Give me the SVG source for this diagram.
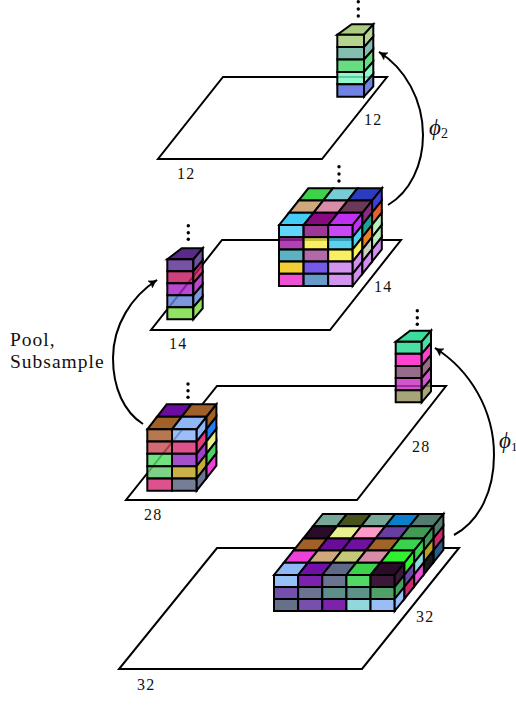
<svg xmlns="http://www.w3.org/2000/svg" width="516" height="726" viewBox="0 0 516 726">
<style>
text{font-family:"Liberation Serif",serif;fill:#111}
.n{font-size:16px;letter-spacing:1.2px}
.l{font-size:19.5px;letter-spacing:1px}
.p{font-size:23px;font-style:italic}
.s{font-size:14px}
.plane,.arrow{fill:none;stroke:#000;stroke-width:2}
.arrow{marker-end:url(#a)}
.c rect{width:1px;height:1px;stroke:#000;stroke-width:2;vector-effect:non-scaling-stroke}
.c polygon{stroke:#000;stroke-width:2}
.t rect{fill-opacity:.82}
</style>
<defs>
<marker id="a" markerUnits="userSpaceOnUse" markerWidth="12" markerHeight="12" refX="9" refY="5" orient="auto"><path d="M1,1 Q5,4 9,5 Q5,6 1,9 Q3,5 1,1Z" fill="#000" stroke="#000" stroke-width=".6"/></marker>
</defs>
<g id="plane32"><polygon class="plane" points="119,669 362,669 459,548 217,548"/><text class="n" x="137" y="690">32</text><text class="n" x="416" y="622">32</text></g>
<g id="plane28"><polygon class="plane" points="126,500 357,500 446,386 217,386"/><text class="n" x="144" y="520">28</text><text class="n" x="412" y="452">28</text></g>
<g id="plane14"><polygon class="plane" points="151,330 330,330 401,240 222,240"/><text class="n" x="169" y="349">14</text><text class="n" x="374" y="292">14</text></g>
<g id="plane12"><polygon class="plane" points="158,159 322,159 387,77 223,77"/><text class="n" x="177" y="179">12</text><text class="n" x="364" y="125">12</text></g>

<g id="block32" class="c">
<g transform="matrix(24.14 0 -9.74 12.2 322.7 514)">
<rect x="0" y="0" fill="#76a797"/><rect x="1" y="0" fill="#46531c"/><rect x="2" y="0" fill="#78a898"/><rect x="3" y="0" fill="#0a80cc"/><rect x="4" y="0" fill="#537b70"/>
<rect x="0" y="1" fill="#2a0c2a"/><rect x="1" y="1" fill="#e8f090"/><rect x="2" y="1" fill="#ff99c8"/><rect x="3" y="1" fill="#673ea0"/><rect x="4" y="1" fill="#439a55"/>
<rect x="0" y="2" fill="#a06028"/><rect x="1" y="2" fill="#6a0c9a"/><rect x="2" y="2" fill="#7010a0"/><rect x="3" y="2" fill="#a06428"/><rect x="4" y="2" fill="#3bd24d"/>
<rect x="0" y="3" fill="#ec40d8"/><rect x="1" y="3" fill="#cfa87e"/><rect x="2" y="3" fill="#c4c878"/><rect x="3" y="3" fill="#d88ca8"/><rect x="4" y="3" fill="#30f030"/>
<rect x="0" y="4" fill="#8fb6f5"/><rect x="1" y="4" fill="#7010a8"/><rect x="2" y="4" fill="#5c6a88"/><rect x="3" y="4" fill="#3cd24c"/><rect x="4" y="4" fill="#2a0c2a"/>
</g>
<g transform="matrix(24.14 0 0 12 274 575)">
<rect x="0" y="0" fill="#97bff8"/><rect x="1" y="0" fill="#7d22ad"/><rect x="2" y="0" fill="#6b7390"/><rect x="3" y="0" fill="#52d865"/><rect x="4" y="0" fill="#3a1838"/>
<rect x="0" y="1" fill="#7250ac"/><rect x="1" y="1" fill="#6b7390"/><rect x="2" y="1" fill="#5c9088"/><rect x="3" y="1" fill="#5e9288"/><rect x="4" y="1" fill="#50a068"/>
<rect x="0" y="2" fill="#667088"/><rect x="1" y="2" fill="#7850ac"/><rect x="2" y="2" fill="#7c22ad"/><rect x="3" y="2" fill="#90d8dc"/><rect x="4" y="2" fill="#9abdf8"/>
</g>
<g transform="matrix(9.74 -12.2 0 12 394.7 575)">
<rect x="0" y="0" fill="#3a1838"/><rect x="0" y="1" fill="#42a060"/><rect x="0" y="2" fill="#97bff8"/>
<rect x="1" y="0" fill="#30f030"/><rect x="1" y="1" fill="#6a48a8"/><rect x="1" y="2" fill="#cc2a70"/>
<rect x="2" y="0" fill="#3bd24d"/><rect x="2" y="1" fill="#90d8dc"/><rect x="2" y="2" fill="#ec50d8"/>
<rect x="3" y="0" fill="#3b9a55"/><rect x="3" y="1" fill="#b8a020"/><rect x="3" y="2" fill="#1a1a1a"/>
<rect x="4" y="0" fill="#537b70"/><rect x="4" y="1" fill="#cc2a70"/><rect x="4" y="2" fill="#2a5a88"/>
</g>
</g>

<g id="block28a" class="c">
<g transform="matrix(24.7 0 -9.7 12.5 166.7 404.3)">
<rect x="0" y="0" fill="#6a0ca0"/><rect x="1" y="0" fill="#a06028"/><rect x="0" y="1" fill="#a06028"/><rect x="1" y="1" fill="#8fb6f5"/>
</g>
<g class="t" transform="matrix(24.7 0 0 12.28 147.3 429.3)">
<rect x="0" y="0" fill="#a65c28"/><rect x="1" y="0" fill="#85b0f6"/>
<rect x="0" y="1" fill="#c84a56"/><rect x="1" y="1" fill="#d62c74"/>
<rect x="0" y="2" fill="#50dc64"/><rect x="1" y="2" fill="#9028c0"/>
<rect x="0" y="3" fill="#60c86c"/><rect x="1" y="3" fill="#bca020"/>
<rect x="0" y="4" fill="#d62c74"/><rect x="1" y="4" fill="#586280"/>
</g>
<g transform="matrix(9.85 -12.5 0 12.28 196.7 429.3)">
<rect x="0" y="0" fill="#8fb6f5"/><rect x="0" y="1" fill="#dd3f80"/><rect x="0" y="2" fill="#a040c8"/><rect x="0" y="3" fill="#c4ac38"/><rect x="0" y="4" fill="#6b7390"/>
<rect x="1" y="0" fill="#a06028"/><rect x="1" y="1" fill="#2080f0"/><rect x="1" y="2" fill="#e8f090"/><rect x="1" y="3" fill="#50d060"/><rect x="1" y="4" fill="#f040d8"/>
</g>
</g>
<g id="dots28a"><circle cx="188" cy="384" r="1.7"/><circle cx="188" cy="390.7" r="1.7"/><circle cx="188" cy="397.3" r="1.7"/></g>

<g id="block14a" class="c">
<g transform="matrix(24.57 0 -9.7 12.23 308.3 188.3)">
<rect x="0" y="0" fill="#3cd24c"/><rect x="1" y="0" fill="#78ccd4"/><rect x="2" y="0" fill="#2c3cc0"/>
<rect x="0" y="1" fill="#cfa87e"/><rect x="1" y="1" fill="#d88ca8"/><rect x="2" y="1" fill="#6a3858"/>
<rect x="0" y="2" fill="#44ccf8"/><rect x="1" y="2" fill="#880a80"/><rect x="2" y="2" fill="#c030f0"/>
</g>
<g class="t" transform="matrix(24.57 0 0 12.2 279 225)">
<rect x="0" y="0" fill="#40ccfc"/><rect x="1" y="0" fill="#880c80"/><rect x="2" y="0" fill="#bc20f0"/>
<rect x="0" y="1" fill="#a018a0"/><rect x="1" y="1" fill="#f8ec40"/><rect x="2" y="1" fill="#38c8ec"/>
<rect x="0" y="2" fill="#38a0b4"/><rect x="1" y="2" fill="#a04894"/><rect x="2" y="2" fill="#f8ec40"/>
<rect x="0" y="3" fill="#eec408"/><rect x="1" y="3" fill="#5834e4"/><rect x="2" y="3" fill="#c87cec"/>
<rect x="0" y="4" fill="#ec28c8"/><rect x="1" y="4" fill="#4484bc"/><rect x="2" y="4" fill="#c87cec"/>
</g>
<g transform="matrix(9.7 -12.23 0 12.2 352.7 225)">
<rect x="0" y="0" fill="#c030f0"/><rect x="0" y="1" fill="#50d0f0"/><rect x="0" y="2" fill="#f8f058"/><rect x="0" y="3" fill="#d090f0"/><rect x="0" y="4" fill="#d090f0"/>
<rect x="1" y="0" fill="#8a2a80"/><rect x="1" y="1" fill="#20a090"/><rect x="1" y="2" fill="#e88020"/><rect x="1" y="3" fill="#c8d0c0"/><rect x="1" y="4" fill="#d090f0"/>
<rect x="2" y="0" fill="#4040d8"/><rect x="2" y="1" fill="#e86030"/><rect x="2" y="2" fill="#b8f0c0"/><rect x="2" y="3" fill="#b8f0c0"/><rect x="2" y="4" fill="#d090f0"/>
</g>
</g>
<g id="dots14a"><circle cx="339" cy="166.7" r="1.7"/><circle cx="339" cy="174" r="1.7"/><circle cx="339" cy="181" r="1.7"/></g>

<g id="block14b" class="c">
<polygon points="167.3,259.3 193.3,259.3 202.7,248.3 181.7,248.3" fill="#5a2a8a"/>
<g class="t" transform="matrix(26 0 0 12 167.3 259.3)">
<rect x="0" y="0" fill="#5a2c90"/><rect x="0" y="1" fill="#c21860"/><rect x="0" y="2" fill="#a820c4"/><rect x="0" y="3" fill="#6080d8"/><rect x="0" y="4" fill="#78dc40"/>
</g>
<g class="t" transform="matrix(9.4 -11 0 12 193.3 259.3)">
<rect x="0" y="0" fill="#4e2c88"/><rect x="0" y="1" fill="#c21860"/><rect x="0" y="2" fill="#a820c4"/><rect x="0" y="3" fill="#6080d8"/><rect x="0" y="4" fill="#78dc40"/>
</g>
</g>
<g id="dots14b"><circle cx="188.3" cy="225.7" r="1.7"/><circle cx="188.3" cy="232.7" r="1.7"/><circle cx="188.3" cy="239.3" r="1.7"/></g>

<g id="block28b" class="c">
<polygon points="395.7,341.7 421.7,341.7 431,330.7 410,330.7" fill="#3cdc9c"/>
<g class="t" transform="matrix(26 0 0 12.12 395.7 341.7)">
<rect x="0" y="0" fill="#24d890"/><rect x="0" y="1" fill="#ff18c8"/><rect x="0" y="2" fill="#804c70"/><rect x="0" y="3" fill="#c830c0"/><rect x="0" y="4" fill="#94905c"/>
</g>
<g class="t" transform="matrix(9.3 -11 0 12.12 421.7 341.7)">
<rect x="0" y="0" fill="#24d890"/><rect x="0" y="1" fill="#ff18c8"/><rect x="0" y="2" fill="#804c70"/><rect x="0" y="3" fill="#c830c0"/><rect x="0" y="4" fill="#94905c"/>
</g>
</g>
<g id="dots28b"><circle cx="417.3" cy="310.7" r="1.7"/><circle cx="417.3" cy="317.7" r="1.7"/><circle cx="417.3" cy="324.3" r="1.7"/></g>

<g id="block12" class="c">
<polygon points="337.3,34.7 364,34.7 373.3,24.3 351.7,24.3" fill="#a8cc80"/>
<g class="t" transform="matrix(26.7 0 0 12.4 337.3 34.7)">
<rect x="0" y="0" fill="#a4ca78"/><rect x="0" y="1" fill="#68b09c"/><rect x="0" y="2" fill="#44d468"/><rect x="0" y="3" fill="#78f8c0"/><rect x="0" y="4" fill="#5068dc"/>
</g>
<g class="t" transform="matrix(9.3 -10.4 0 12.4 364 34.7)">
<rect x="0" y="0" fill="#a4ca78"/><rect x="0" y="1" fill="#68b09c"/><rect x="0" y="2" fill="#44d468"/><rect x="0" y="3" fill="#78f8c0"/><rect x="0" y="4" fill="#5068dc"/>
</g>
</g>
<g id="dots12"><circle cx="358.3" cy="1.7" r="1.7"/><circle cx="358.3" cy="9" r="1.7"/><circle cx="358.3" cy="16" r="1.7"/></g>

<g id="connectors">
<path class="arrow" d="M454,535 C480,521 494,490 494,455 C494,410 470,370 435,348"/>
<path class="arrow" d="M388,205 C410,192 423,165 423,135 C423,100 405,68 379,52"/>
<path class="arrow" d="M143,424 C124,412 113,388 113,358 C113,325 132,296 157,280"/>
</g>
<g id="labels">
<text class="l" x="10" y="346">Pool,</text>
<text class="l" x="10" y="368">Subsample</text>
<text class="p" x="499" y="448">ϕ</text><text class="s" x="511" y="451" style="font-size:13px">1</text>
<text class="p" x="429" y="135">ϕ</text><text class="s" x="441" y="138">2</text>
</g>
</svg>
